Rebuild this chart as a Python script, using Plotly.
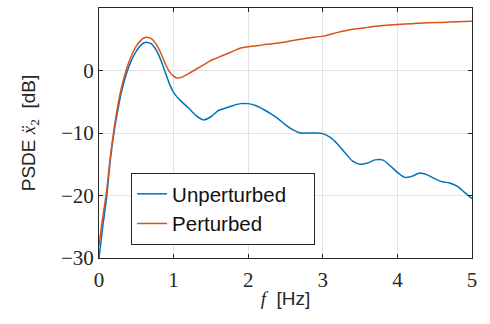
import plotly.graph_objects as go

freq_u = [0, 0.05, 0.1, 0.15, 0.2, 0.25, 0.3, 0.35, 0.4, 0.45, 0.5, 0.55, 0.6, 0.65, 0.7, 0.75,
          0.8, 0.85, 0.9, 0.95, 1.0, 1.05, 1.1, 1.2, 1.3, 1.4, 1.5, 1.6, 1.7, 1.8, 1.9, 2.0,
          2.1, 2.2, 2.3, 2.4, 2.5, 2.6, 2.7, 2.8, 2.9, 3.0, 3.1, 3.2, 3.3, 3.4, 3.5, 3.6, 3.7,
          3.8, 3.9, 4.0, 4.1, 4.2, 4.3, 4.4, 4.5, 4.6, 4.7, 4.8, 4.9, 5.0]
psd_unperturbed = [-30, -25, -20.5, -14.5, -10, -6.5, -3.5, -1.2, 0.6, 2.0, 3.1, 3.9, 4.4, 4.5, 4.3, 3.6,
                   2.5, 1.0, -0.7, -2.3, -3.5, -4.3, -4.9, -6.0, -7.2, -7.9, -7.4, -6.4, -6.0, -5.6, -5.3, -5.3,
                   -5.6, -6.2, -6.9, -7.7, -8.7, -9.5, -10.0, -10.0, -10.0, -10.1, -10.7, -11.8, -13.2, -14.5, -15.0, -14.8, -14.3,
                   -14.3, -15.2, -16.3, -17.1, -16.9, -16.4, -16.7, -17.3, -17.8, -18.0, -18.5, -19.5, -20.5]

freq_p = [0, 0.05, 0.1, 0.15, 0.2, 0.25, 0.3, 0.35, 0.4, 0.45, 0.5, 0.55, 0.6, 0.65, 0.7, 0.75,
          0.8, 0.85, 0.9, 0.95, 1.0, 1.05, 1.1, 1.2, 1.3, 1.4, 1.5, 1.6, 1.7, 1.8, 1.9, 2.0,
          2.2, 2.4, 2.6, 2.8, 3.0, 3.2, 3.4, 3.6, 3.8, 4.0, 4.2, 4.4, 4.6, 4.8, 5.0]
psd_perturbed = [-28, -23.5, -19.5, -14, -9.5, -5.8, -2.8, -0.5, 1.3, 2.8, 3.9, 4.7, 5.2, 5.3, 5.1, 4.5,
                 3.5, 2.2, 0.8, -0.3, -0.9, -1.2, -1.1, -0.5, 0.2, 0.9, 1.6, 2.1, 2.6, 3.1, 3.6, 3.8,
                 4.1, 4.4, 4.8, 5.2, 5.5, 6.1, 6.6, 6.9, 7.2, 7.35, 7.5, 7.65, 7.7, 7.8, 7.9]

x_ticks = [0, 1, 2, 3, 4, 5]
y_ticks = [-30, -20, -10, 0, 10]
pad = "\u00a0" * 4

fig = go.Figure()
fig.add_trace(go.Scatter(x=freq_u, y=psd_unperturbed, mode="lines", name="Unperturbed" + pad,
                         line=dict(color="#0072BD", width=1.5, shape="spline", smoothing=0.8)))
fig.add_trace(go.Scatter(x=freq_p, y=psd_perturbed, mode="lines", name="Perturbed",
                         line=dict(color="#D95319", width=1.5, shape="spline", smoothing=0.8)))

axis_common = dict(showline=True, linecolor="#262626", linewidth=1, mirror="ticks",
                   ticks="inside", ticklen=4, tickcolor="#262626",
                   showgrid=True, gridcolor="#e3e3e3", gridwidth=1, zeroline=False,
                   tickfont=dict(family="Liberation Serif", size=21, color="#262626"))

fig.update_layout(
    width=490, height=324,
    margin=dict(l=99, r=18, t=8, b=66),
    paper_bgcolor="white", plot_bgcolor="white",
    xaxis=dict(range=[0, 5], tickvals=x_ticks, ticklabelstandoff=3,
               title=dict(text='<i><span style="font-family:Liberation Serif">f</span></i>  [Hz]',
                          font=dict(family="Liberation Sans", size=19, color="#262626"), standoff=0),
               **axis_common),
    yaxis=dict(range=[-30, 10], tickvals=y_ticks,
               title=dict(text='PSDE <span style="font-family:Liberation Serif"><i>ẍ</i><sub>2</sub></span>  [dB]',
                          font=dict(family="Liberation Sans", size=19, color="#262626"), standoff=20),
               **axis_common),
    legend=dict(x=0.086, y=0.34, xanchor="left", yanchor="top",
                bgcolor="white", bordercolor="#262626", borderwidth=1,
                font=dict(family="Liberation Sans", size=20.5, color="#111111"),
                itemwidth=30, tracegroupgap=2),
    showlegend=True,
)

fig.write_html("out.html", config={"displayModeBar": False},
               post_script="document.body.style.margin='0';")
